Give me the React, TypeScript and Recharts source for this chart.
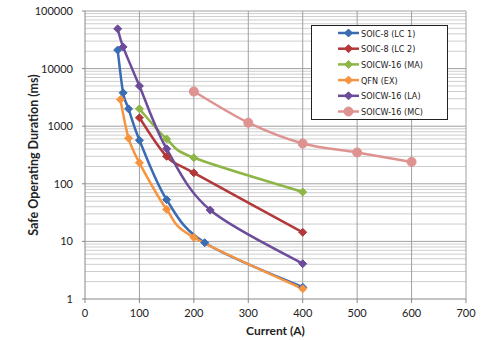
import React from "react";
import {
    LineChart,
    Line,
    XAxis,
    YAxis,
    ReferenceLine,
    Legend,
} from "recharts";

// current (A) / duration (ms)
const lc1Current = [60, 70, 80, 100, 150, 220, 400];
const lc1Duration = [21000, 3800, 2000, 570, 53, 9.5, 1.6];

const lc2Current = [100, 150, 200, 400];
const lc2Duration = [1400, 300, 155, 14.4];

const maCurrent = [100, 150, 200, 400];
const maDuration = [2000, 600, 283, 72];

const exCurrent = [65, 80, 100, 150, 200, 400];
const exDuration = [2900, 620, 231, 36, 11.7, 1.5];

const laCurrent = [60, 70, 100, 150, 230, 400];
const laDuration = [49000, 23800, 5000, 405, 35, 4.1];

const mcCurrent = [200, 300, 400, 500, 600];
const mcDuration = [4000, 1150, 500, 350, 240];

const xTicks = [0, 100, 200, 300, 400, 500, 600, 700];
const yTicks = [1, 10, 100, 1000, 10000, 100000];
const minorSteps = [2, 3, 4, 5, 6, 7, 8, 9];

const minorValues: number[] = [];
yTicks.slice(0, -1).forEach((d) => minorSteps.forEach((m) => minorValues.push(d * m)));

const toPoints = (xs: number[], ys: number[]) =>
    xs.map((x, i) => ({ current: x, duration: ys[i] }));

const series = [
    { name: "SOIC-8 (LC 1)", color: "#3a6cb3", marker: "diamond", data: toPoints(lc1Current, lc1Duration) },
    { name: "SOIC-8 (LC 2)", color: "#b2383a", marker: "diamond", data: toPoints(lc2Current, lc2Duration) },
    { name: "SOICW-16 (MA)", color: "#8db646", marker: "diamond", data: toPoints(maCurrent, maDuration) },
    { name: "QFN (EX)", color: "#f7943f", marker: "diamond", data: toPoints(exCurrent, exDuration) },
    { name: "SOICW-16 (LA)", color: "#6c4b9a", marker: "diamond", data: toPoints(laCurrent, laDuration) },
    { name: "SOICW-16 (MC)", color: "#de9391", marker: "circle", data: toPoints(mcCurrent, mcDuration) },
];

// excel-like smoothing (catmull-rom through the points)
function smoothCurve(context: any) {
    let pts: number[][] = [];
    return {
        areaStart() {},
        areaEnd() {},
        lineStart() {
            pts = [];
        },
        point(x: number, y: number) {
            pts.push([+x, +y]);
        },
        lineEnd() {
            if (!pts.length) return;
            context.moveTo(pts[0][0], pts[0][1]);
            for (let i = 0; i < pts.length - 1; i++) {
                const p0 = pts[i - 1] || pts[i];
                const p1 = pts[i];
                const p2 = pts[i + 1];
                const p3 = pts[i + 2] || p2;
                context.bezierCurveTo(
                    p1[0] + (p2[0] - p0[0]) / 6,
                    p1[1] + (p2[1] - p0[1]) / 6,
                    p2[0] - (p3[0] - p1[0]) / 6,
                    p2[1] - (p3[1] - p1[1]) / 6,
                    p2[0],
                    p2[1]
                );
            }
        },
    };
}

function Marker({ cx, cy, color, kind }: { cx: number; cy: number; color: string; kind: string }) {
    if (cx == null || cy == null) return null;
    if (kind === "circle") {
        return <circle cx={cx} cy={cy} r={4.5} fill={color} stroke={color} />;
    }
    const r = 4;
    return (
        <path
            d={`M${cx},${cy - r}L${cx + r},${cy}L${cx},${cy + r}L${cx - r},${cy}Z`}
            fill={color}
            stroke={color}
        />
    );
}

function LegendBox() {
    return (
        <svg width={137} height={95} style={{ display: "block" }}>
            <rect x={0.5} y={0.5} width={136} height={94} fill="#fff" stroke="#222" />
            {series.map((s, i) => {
                const y = 8 + i * 15.7;
                return (
                    <g key={s.name}>
                        <line x1={27} x2={48} y1={y} y2={y} stroke={s.color} strokeWidth={2.5} />
                        <Marker cx={37.5} cy={y} color={s.color} kind={s.marker} />
                        <text
                            x={50}
                            y={y + 3.5}
                            fontSize={9}
                            fontFamily="'DejaVu Sans Condensed', Lato, sans-serif"
                            fill="#222"
                        >
                            {s.name}
                        </text>
                    </g>
                );
            })}
        </svg>
    );
}

export default function App() {
    return (
        <div
            style={{
                position: "absolute",
                left: 0,
                top: 0,
                width: 500,
                height: 340,
                background: "#fff",
                fontFamily: "Lato, 'Open Sans', sans-serif",
            }}
        >
            <LineChart
                width={500}
                height={340}
                margin={{ top: 11, right: 34, left: 0, bottom: 0 }}
            >
                <XAxis
                    type="number"
                    dataKey="current"
                    domain={[0, 700]}
                    ticks={xTicks}
                    allowDataOverflow
                    height={41}
                    stroke="#888"
                    tickSize={4}
                    tickMargin={6}
                    tick={{ fill: "#222", fontSize: 11 }}
                    label={{
                        content: (props: any) => {
                            const vb = props.viewBox;
                            return (
                                <text
                                    x={vb.x + vb.width / 2}
                                    y={vb.y + 36}
                                    textAnchor="middle"
                                    fontSize={12}
                                    fontWeight="bold"
                                    fill="#222"
                                >
                                    Current (A)
                                </text>
                            );
                        },
                    }}
                />

                <YAxis
                    type="number"
                    scale="log"
                    domain={[1, 100000]}
                    ticks={yTicks}
                    allowDataOverflow
                    width={85}
                    stroke="#888"
                    tickSize={3}
                    tickMargin={9}
                    tick={{ fill: "#222", fontSize: 11 }}
                    label={{
                        content: (props: any) => {
                            const vb = props.viewBox;
                            const cx = 33;
                            const cy = vb.y + vb.height / 2;
                            return (
                                <text
                                    x={cx}
                                    y={cy}
                                    textAnchor="middle"
                                    dominantBaseline="central"
                                    transform={`rotate(-90, ${cx}, ${cy})`}
                                    fontSize={12.5}
                                    fontWeight="bold"
                                    fill="#222"
                                >
                                    Safe Operating Duration (ms)
                                </text>
                            );
                        },
                    }}
                />

                {minorValues.map((v) => (
                    <ReferenceLine key={`m${v}`} y={v} stroke="#cdcdcd" strokeWidth={1} />
                ))}
                {yTicks.slice(1).map((v) => (
                    <ReferenceLine key={`y${v}`} y={v} stroke="#a0a0a0" strokeWidth={1} />
                ))}
                {xTicks.slice(1).map((v) => (
                    <ReferenceLine key={`x${v}`} x={v} stroke="#a0a0a0" strokeWidth={1} />
                ))}

                <Legend
                    layout="horizontal"
                    align="center"
                    verticalAlign="middle"
                    wrapperStyle={{ left: 311, top: 25, width: 137, height: 95 }}
                    content={() => <LegendBox />}
                />

                {series.map((s) => (
                    <Line
                        key={s.name}
                        data={s.data}
                        dataKey="duration"
                        name={s.name}
                        type={smoothCurve as any}
                        stroke={s.color}
                        strokeWidth={2.5}
                        isAnimationActive={false}
                        dot={(p: any) => (
                            <Marker key={`${s.name}-${p.index}`} cx={p.cx} cy={p.cy} color={s.color} kind={s.marker} />
                        )}
                        activeDot={false}
                    />
                ))}
            </LineChart>
        </div>
    );
}
